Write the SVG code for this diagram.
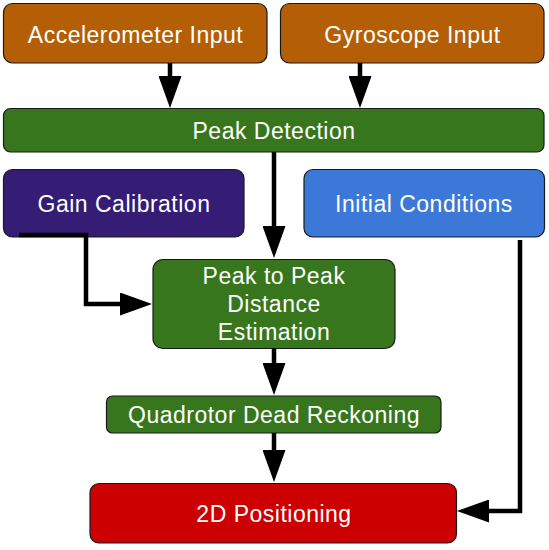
<svg xmlns="http://www.w3.org/2000/svg" width="549" height="550" viewBox="0 0 549 550">
  <defs>
    <marker id="ah" viewBox="-22 -11.5 32 23" refX="0" refY="0" markerWidth="32" markerHeight="23" markerUnits="userSpaceOnUse" orient="auto">
      <path d="M-22,-11.5 L10,0 L-22,11.5 z" fill="#000"/>
    </marker>
    <style>
      .box { stroke: #1a1a1a; stroke-width: 1.2; }
      .lbl { font-family: "Liberation Sans", Arial, sans-serif; font-size: 23px; letter-spacing: 0.5px; fill: #ffffff; text-anchor: middle; }
      .con { fill: none; stroke: #000; stroke-width: 4.5; marker-end: url(#ah); }
    </style>
  </defs>
  <rect width="549" height="550" fill="#ffffff"/>

  <g id="accelerometer">
    <rect class="box" x="3.5" y="3.5" width="263.5" height="59.5" rx="9" fill="#b45f06"/>
    <text class="lbl" x="135.5" y="42.5">Accelerometer Input</text>
  </g>
  <g id="gyroscope">
    <rect class="box" x="280.5" y="3.5" width="263.5" height="59.5" rx="9" fill="#b45f06"/>
    <text class="lbl" x="412.5" y="42.5">Gyroscope Input</text>
  </g>
  <g id="peak-detection">
    <rect class="box" x="3.5" y="108.5" width="540.5" height="43.5" rx="7" fill="#38761d"/>
    <text class="lbl" x="274" y="139">Peak Detection</text>
  </g>
  <g id="gain-calibration">
    <rect class="box" x="3.5" y="169.5" width="240.5" height="67.5" rx="9" fill="#351c75"/>
    <text class="lbl" x="124" y="212">Gain Calibration</text>
  </g>
  <g id="initial-conditions">
    <rect class="box" x="304" y="169.5" width="240.5" height="67.5" rx="9" fill="#3c78d8"/>
    <text class="lbl" x="424" y="212">Initial Conditions</text>
  </g>
  <g id="peak-to-peak">
    <rect class="box" x="153" y="259.5" width="242" height="89" rx="10" fill="#38761d"/>
    <text class="lbl" x="274" y="284">Peak to Peak</text>
    <text class="lbl" x="274" y="312">Distance</text>
    <text class="lbl" x="274" y="340">Estimation</text>
  </g>
  <g id="dead-reckoning">
    <rect class="box" x="106.5" y="396" width="334.5" height="37" rx="6" fill="#38761d"/>
    <text class="lbl" x="274" y="423">Quadrotor Dead Reckoning</text>
  </g>
  <g id="positioning">
    <rect class="box" x="90" y="483.5" width="366.5" height="59.5" rx="9" fill="#cc0000"/>
    <text class="lbl" x="274" y="522">2D Positioning</text>
  </g>

  <g id="connectors">
    <path class="con" d="M170,63 V98"/>
    <path class="con" d="M360,63 V98"/>
    <path class="con" d="M274,152 V248"/>
    <path class="con" d="M19,235 H86 V304 H142"/>
    <path class="con" d="M274,348.5 V385"/>
    <path class="con" d="M274,433 V472"/>
    <path class="con" d="M520,240 V511 H467"/>
  </g>
</svg>
